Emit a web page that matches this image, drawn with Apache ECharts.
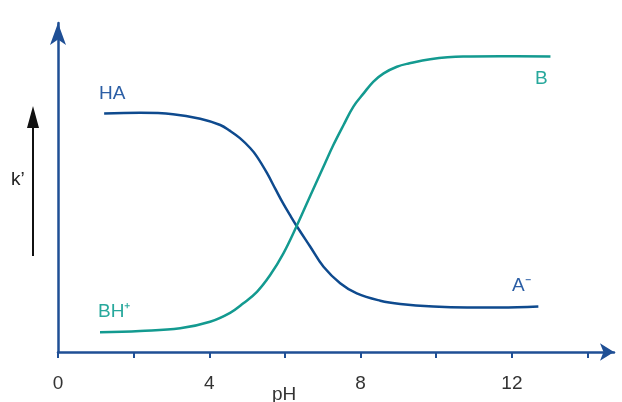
<!DOCTYPE html>
<html>
<head>
<meta charset="utf-8">
<script src="https://cdn.jsdelivr.net/npm/echarts@6/dist/echarts.min.js"></script>
<style>html,body{margin:0;padding:0;background:#fff}#c{width:622px;height:402px}</style>
</head>
<body>
<div id="c"></div>
<script>
// pH values and relative retention (k')
const haX = [1.22, 2.17, 3.04, 3.76, 4.29, 4.55, 4.81, 5.08, 5.26, 5.52, 5.75, 5.96, 6.14, 6.31, 6.67, 7.02, 7.46, 7.90, 8.52, 9.05, 9.92, 10.82, 11.69, 12.70];
const haY = [72.5, 72.7, 72.3, 70.9, 69.0, 67.2, 65.0, 62.0, 59.4, 54.5, 49.5, 45.0, 41.5, 38.3, 32.0, 25.9, 20.9, 17.8, 15.6, 14.6, 13.8, 13.5, 13.5, 13.8];
const bX = [1.11, 2.17, 3.23, 4.02, 4.55, 4.90, 5.26, 5.61, 5.96, 6.31, 6.67, 7.06, 7.28, 7.55, 7.81, 8.08, 8.34, 8.61, 8.96, 9.27, 9.84, 10.71, 11.69, 13.02];
const bY = [6.0, 6.4, 7.2, 9.2, 11.9, 14.8, 18.3, 23.4, 30.0, 38.3, 47.5, 57.4, 62.9, 69.0, 74.6, 78.6, 82.2, 84.7, 86.7, 87.7, 89.0, 89.8, 89.9, 89.8];
const tickValues = [0, 2, 4, 6, 8, 10, 12, 14];
const labelValues = [0, 4, 8, 12];

const axisColor = '#1f4f95';
const blue = '#0e4a8e';
const teal = '#139a90';
const font = 'Liberation Sans, Arial, sans-serif';

const chart = echarts.init(document.getElementById('c'), null, {renderer: 'canvas'});
chart.setOption({
  animation: false,
  backgroundColor: '#fff',
  grid: {left: 58, right: 8, top: 23, bottom: 50, containLabel: false},
  xAxis: {
    type: 'value', min: 0, max: 14.7,
    splitLine: {show: false},
    axisLine: {show: true, symbol: ['none', 'arrow'], symbolSize: [13, 14], lineStyle: {color: axisColor, width: 2.5}},
    axisTick: {show: true, customValues: tickValues, length: 6, inside: false, lineStyle: {color: axisColor, width: 2}},
    axisLabel: {customValues: labelValues, color: '#333', fontSize: 19, fontFamily: font, margin: 22}
  },
  yAxis: {
    type: 'value', min: 0, max: 100,
    splitLine: {show: false},
    axisLine: {show: true, symbol: ['none', 'arrow'], symbolSize: [12, 22], lineStyle: {color: axisColor, width: 2.5}},
    axisTick: {show: false},
    axisLabel: {show: false}
  },
  series: [
    {type: 'line', data: haX.map((x, i) => [x, haY[i]]), showSymbol: false, smooth: 0.4, lineStyle: {color: blue, width: 2.5}},
    {type: 'line', data: bX.map((x, i) => [x, bY[i]]), showSymbol: false, smooth: 0.4, lineStyle: {color: teal, width: 2.5}}
  ],
  graphic: [
    {type: 'text', left: 99, top: 84, style: {text: 'HA', fill: '#2b5ea5', font: '19px ' + font}},
    {type: 'text', left: 98, top: 302, style: {text: 'BH⁺', fill: '#27a89c', font: '19px ' + font}},
    {type: 'text', left: 512, top: 276, style: {text: 'A⁻', fill: '#2b5ea5', font: '19px ' + font}},
    {type: 'text', left: 535, top: 69, style: {text: 'B', fill: '#27a89c', font: '19px ' + font}},
    {type: 'text', left: 272, top: 385, style: {text: 'pH', fill: '#333', font: '19px ' + font}},
    {type: 'text', left: 11, top: 170, style: {text: 'k’', fill: '#222', font: '19px ' + font}},
    {type: 'line', shape: {x1: 33, y1: 256, x2: 33, y2: 124}, style: {stroke: '#111', lineWidth: 2}},
    {type: 'polygon', shape: {points: [[33, 106], [27, 128], [39, 128]]}, style: {fill: '#111'}}
  ]
});
</script>
</body>
</html>
